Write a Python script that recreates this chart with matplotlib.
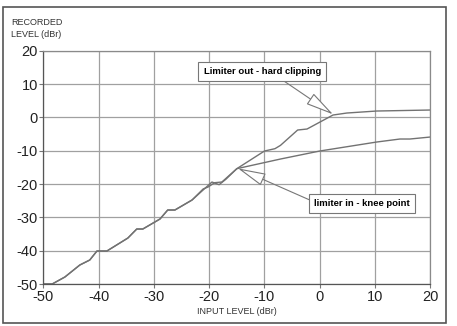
import matplotlib
matplotlib.use('Agg')
import matplotlib.pyplot as plt
from matplotlib.patches import Rectangle

plt.rcParams['font.family'] = ['Liberation Sans', 'DejaVu Sans']
plt.rcParams['axes.unicode_minus'] = False

# shared low-level part (both curves identical until the knee)
x_common = [-50, -48.4, -46.1, -43.4, -41.6, -40.3, -38.5, -34.7, -33.1, -32.0,
            -28.9, -27.5, -26.2, -23.1, -21.1]
y_common = [-50, -50.0, -47.9, -44.3, -42.8, -40.1, -40.1, -36.2, -33.5, -33.5,
            -30.5, -27.8, -27.8, -24.8, -21.5]

# limiter out - hard clipping
x_out = [-20.2, -19.0, -17.7, -15.0, -10.0, -8.1, -7.1, -4.0, -2.3, 2.4, 4.9, 10.3, 20.0]
y_out = [-20.9, -19.6, -19.4, -15.4, -10.1, -9.4, -8.4, -3.8, -3.5, 0.7, 1.3, 1.9, 2.2]

# limiter in - knee point
x_in = [-19.5, -18.2, -17.0, -15.0, -7.1, 0.0, 10.3, 14.5, 16.3, 20.0]
y_in = [-19.4, -20.2, -18.6, -15.4, -12.5, -10.1, -7.4, -6.5, -6.5, -5.9]

xticks = [-50, -40, -30, -20, -10, 0, 10, 20]
yticks = [-50, -40, -30, -20, -10, 0, 10, 20]

fig = plt.figure(figsize=(4.57, 3.26), dpi=100)
ax = fig.add_axes([0.0948, 0.1288, 0.8468, 0.7157])

line_col = '#727272'
ax.plot(x_common + x_out, y_common + y_out, color=line_col, lw=1.0)
ax.plot(x_common[:-1] + x_in, y_common[:-1] + y_in, color=line_col, lw=1.0)

ax.set_xlim(-50, 20)
ax.set_ylim(-50, 20)
ax.set_xticks(xticks)
ax.set_yticks(yticks)
ax.grid(True, color='#a0a0a0', lw=0.9)
ax.set_axisbelow(True)
for s in ax.spines.values():
    s.set_color('#8a8a8a')
    s.set_linewidth(0.9)
ax.spines['left'].set_color('#555555')
ax.spines['bottom'].set_color('#555555')
ax.tick_params(direction='out', length=3, color='#777777', labelsize=10.5,
               labelcolor='#222222', pad=1)

fig.text(0.024, 0.930, 'RECORDED', fontsize=6.5, color='#333333', va='center')
fig.text(0.024, 0.895, 'LEVEL (dBr)', fontsize=6.5, color='#333333', va='center')
fig.text(0.519, 0.045, 'INPUT LEVEL (dBr)', fontsize=6.5, color='#333333',
         ha='center', va='center')

box = dict(boxstyle='square,pad=0.55', fc='white', ec='#777777', lw=0.8)

def arrow(rel):
    return dict(arrowstyle='-|>,head_length=2.6,head_width=0.6', fc='white',
                ec='#777777', lw=0.8, shrinkA=0, shrinkB=0, relpos=rel)

ax.annotate('Limiter out - hard clipping', xy=(2.4, 0.9), xytext=(-10.4, 13.8),
            fontsize=6.8, fontweight='bold', ha='center', va='center',
            bbox=box, arrowprops=arrow((0.62, 0.0)))
ax.annotate('limiter in - knee point', xy=(-14.8, -15.3), xytext=(7.7, -25.9),
            fontsize=6.8, fontweight='bold', ha='center', va='center',
            bbox=box, arrowprops=arrow((0.0, 0.68)))

# scanned page frame
fig.patches.append(Rectangle((0.007, 0.01), 0.968, 0.97, transform=fig.transFigure,
                             fill=False, ec='#555555', lw=1.2))

fig.savefig('out.png', dpi=100)
